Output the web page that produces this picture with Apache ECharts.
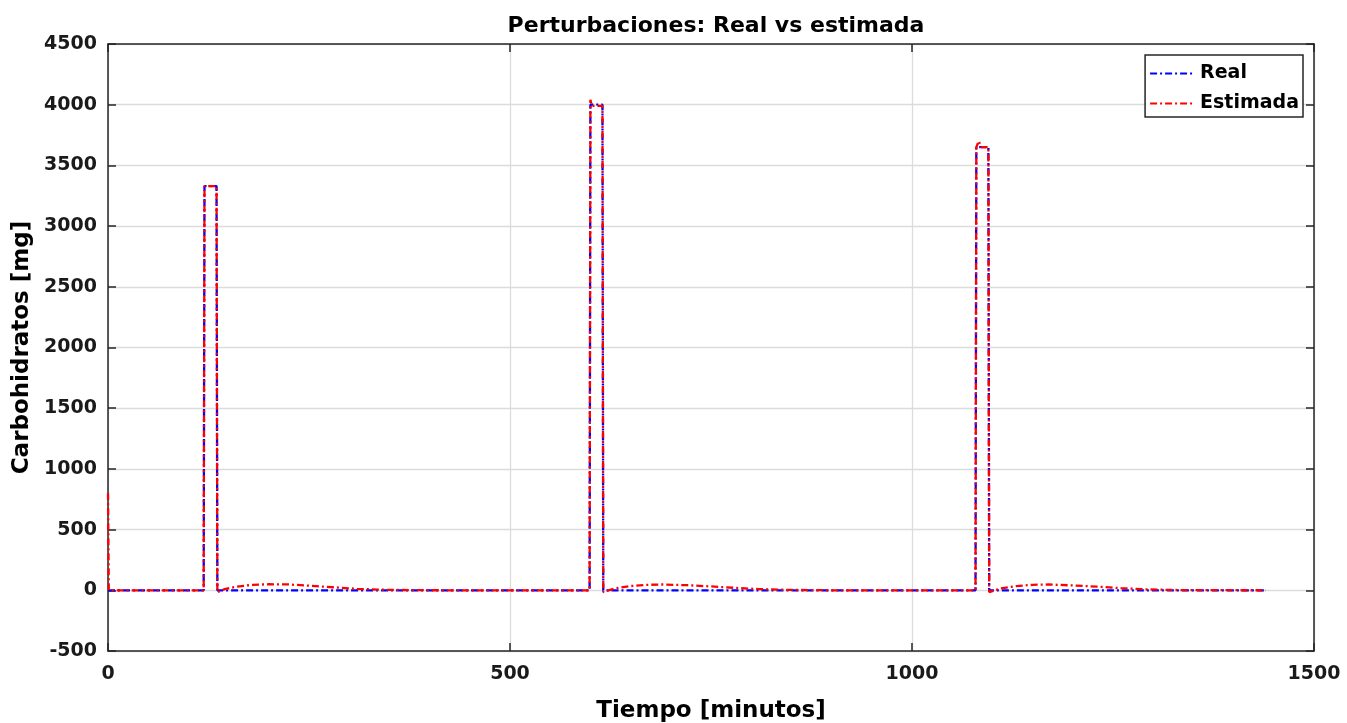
<!DOCTYPE html>
<html><head><meta charset="utf-8">
<script src="https://cdn.jsdelivr.net/npm/echarts@6/dist/echarts.min.js"></script>
<style>html,body{margin:0;padding:0;background:#fff}#c{width:1347px;height:723px}</style>
</head><body><div id="c"></div>
<script>
const xTicks = [0, 500, 1000, 1500];
const yTicks = [-500, 0, 500, 1000, 1500, 2000, 2500, 3000, 3500, 4000, 4500];
const realTime  = [0, 119, 120, 135, 136, 599, 600, 615, 616, 1079, 1080, 1095, 1096, 1440];
const realValue = [0, 0, 3330, 3330, 0, 0, 4000, 4000, 0, 0, 3650, 3650, 0, 0];
const estTime  = [0, 1, 119, 120, 122, 135, 136, 145, 160, 180, 200, 225, 250, 280, 310, 340, 380, 420,
  599, 600, 602, 615, 616, 630, 650, 670, 690, 720, 750, 780, 810, 850, 900,
  1079, 1080, 1083, 1086, 1095, 1096, 1110, 1130, 1150, 1170, 1200, 1230, 1260, 1290, 1330, 1440];
const estValue = [800, 0, 0, 3330, 3335, 3330, -15, 10, 30, 45, 50, 48, 38, 25, 12, 5, 1, 0,
  0, 4040, 3990, 3990, -15, 15, 35, 45, 48, 42, 32, 20, 10, 3, 0,
  0, 3650, 3700, 3650, 3650, -15, 15, 35, 45, 48, 40, 30, 18, 8, 2, 0];

const pairs = (t, v) => t.map((x, i) => [x, v[i]]);
const font = 'DejaVu Sans, sans-serif';
const dash = [7, 3, 2, 3];
const chart = echarts.init(document.getElementById('c'));
const axLine = {show: true, onZero: false, lineStyle: {color: '#262626', width: 1.5}};
const tick = {show: true, inside: true, length: 8, lineStyle: {color: '#262626', width: 1.5}};
const lbl = {fontFamily: font, fontSize: 19, fontWeight: 'bold', color: '#1a1a1a'};
chart.setOption({
  animation: false,
  backgroundColor: '#fff',
  title: {text: 'Perturbaciones: Real vs estimada', left: 711, top: 10, textAlign: 'center',
    textStyle: {fontFamily: font, fontSize: 22, fontWeight: 'bold', color: '#000'}},
  grid: {left: 108, right: 33, top: 44, bottom: 72, containLabel: false, outerBoundsMode: 'none'},
  legend: {
    right: 44, top: 55, orient: 'vertical', itemWidth: 45, itemHeight: 19, itemGap: 11, itemTextGap: 3,
    backgroundColor: '#fff', borderColor: '#262626', borderWidth: 1.5, borderRadius: 0,
    padding: [9, 4, 4, 4],
    itemStyle: {opacity: 0},
    textStyle: {fontFamily: font, fontSize: 19, fontWeight: 'bold', color: '#000'},
    data: ['Real', 'Estimada']
  },
  xAxis: [{
    type: 'value', min: 0, max: 1500, interval: 500,
    name: 'Tiempo [minutos]', nameLocation: 'middle', nameGap: 49,
    nameTextStyle: {fontFamily: font, fontSize: 23, fontWeight: 'bold', color: '#000'},
    axisLine: axLine, axisTick: tick,
    axisLabel: Object.assign({margin: 14, customValues: xTicks, formatter: v => String(v)}, lbl),
    splitLine: {show: true, lineStyle: {color: '#dcdcdc', width: 1.3}}
  }, {
    type: 'value', position: 'top', min: 0, max: 1500, interval: 500,
    axisLine: axLine, axisTick: tick,
    axisLabel: {show: false}, splitLine: {show: false}
  }],
  yAxis: [{
    type: 'value', min: -500, max: 4500, interval: 500,
    name: 'Carbohidratos [mg]', nameLocation: 'middle', nameGap: 65, nameRotate: 90,
    nameTextStyle: {fontFamily: font, fontSize: 23, fontWeight: 'bold', color: '#000'},
    axisLine: axLine, axisTick: tick,
    axisLabel: Object.assign({margin: 11, customValues: yTicks, formatter: v => String(v)}, lbl),
    splitLine: {show: true, lineStyle: {color: '#dcdcdc', width: 1.3}}
  }, {
    type: 'value', position: 'right', min: -500, max: 4500, interval: 500,
    axisLine: axLine, axisTick: tick,
    axisLabel: {show: false}, splitLine: {show: false}
  }],
  series: [{
    name: 'Real', type: 'line', data: pairs(realTime, realValue), symbol: 'none',
    color: '#0000ff', lineStyle: {color: '#0000ff', width: 2.3, type: dash}
  }, {
    name: 'Estimada', type: 'line', data: pairs(estTime, estValue), symbol: 'none',
    color: '#ff0000', lineStyle: {color: '#ff0000', width: 2.3, type: dash}
  }]
});
</script></body></html>
